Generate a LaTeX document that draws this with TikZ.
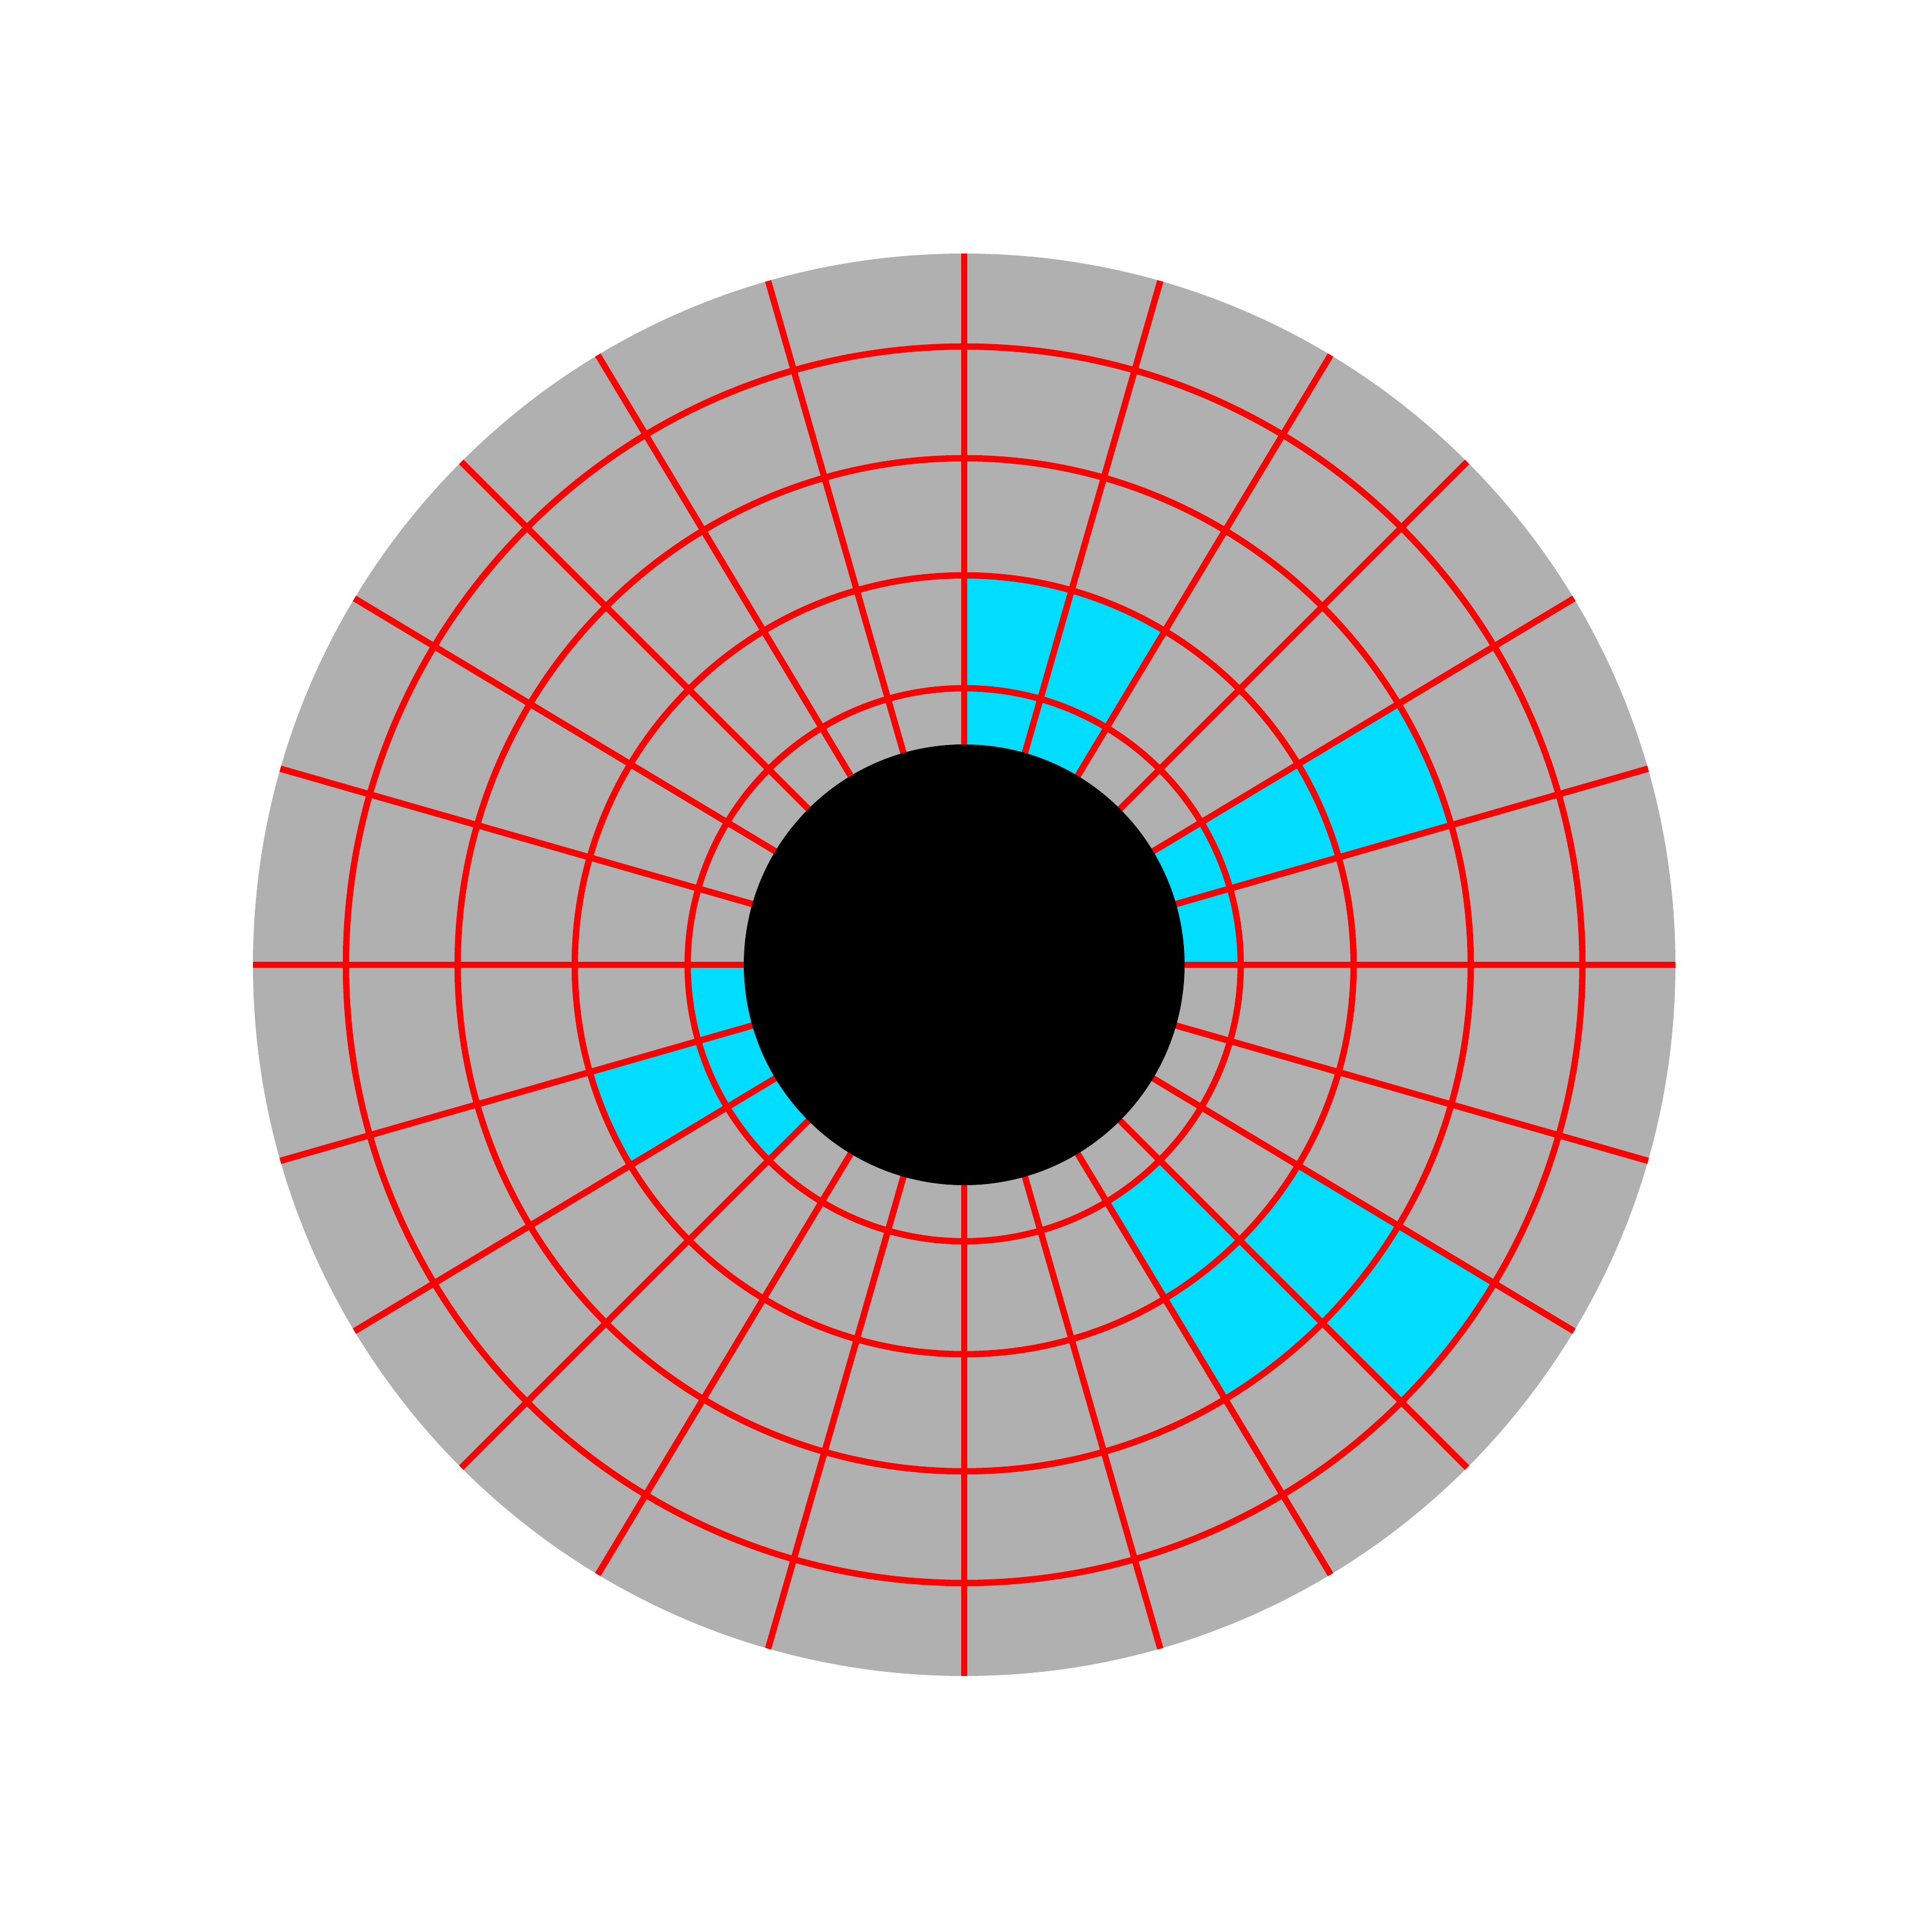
\documentclass[tikz,border=0pt]{standalone}
\definecolor{diskgray}{RGB}{176,176,176}
\definecolor{cellcyan}{RGB}{0,221,255}
\begin{document}
\begin{tikzpicture}[x=1cm,y=1cm,
  gridline/.style={draw=red, line width=0.105cm},
  cell/.style={fill=cellcyan}]
\useasboundingbox (0,0) rectangle (32,32);
\fill[white] (0,0) rectangle (32,32);
\begin{scope}[shift={(15.97,16.02)}]
  % gray disc
  \fill[diskgray] (0,0) circle (11.78);
  % highlighted cells: start angle / end angle / inner radius / outer radius
  \foreach \a/\b/\r/\s in {
      59/74/3.5/4.58, 59/74/4.58/6.45, 74/90/3.5/4.58, 74/90/4.58/6.45,
      0/16/3.5/4.58, 16/31/3.5/4.58, 16/31/4.58/6.45, 16/31/6.45/8.39,
      180/196/3.5/4.58, 196/211/3.5/4.58, 211/225/3.5/4.58, 196/211/4.58/6.45,
      301/315/4.58/6.45, 301/315/6.45/8.39, 315/329/6.45/8.39, 315/329/8.39/10.24}
    \fill[cell] (\a:\r) arc[start angle=\a, end angle=\b, radius=\r]
      -- (\b:\s) arc[start angle=\b, end angle=\a, radius=\s] -- cycle;
  % red grid
  \begin{scope}
    \clip (0,0) circle (11.78);
    \foreach \r in {4.58,6.45,8.39,10.24}
      \draw[gridline] (0,0) circle (\r);
    \foreach \a in {0,16,31,45,59,74,90,106,121,135,149,164,
                    180,196,211,225,239,254,270,286,301,315,329,344}
      \draw[gridline] (\a:3.4) -- (\a:12);
  \end{scope}
  % black core
  \fill[black] (0,0) circle (3.65);
\end{scope}
\end{tikzpicture}
\end{document}
